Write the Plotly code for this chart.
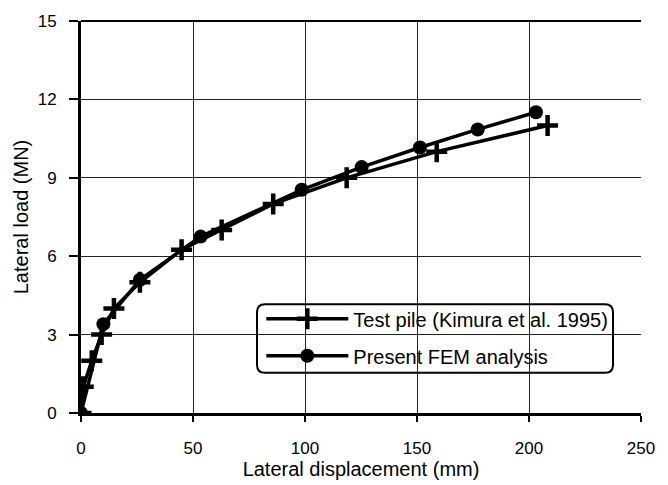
import plotly.graph_objects as go

# Test pile (Kimura et al. 1995)
test_x = [0, 1, 4.8, 9.2, 14.7, 26.3, 44.9, 62.8, 85.8, 118.6, 158.8, 208.3]
test_y = [0, 1.0, 2.0, 3.0, 4.0, 5.0, 6.25, 7.0, 8.0, 9.0, 10.0, 11.0]

# Present FEM analysis
fem_x = [0, 10.0, 26.3, 53.4, 98.5, 125.3, 151.3, 177.1, 203.1]
fem_y = [0, 3.4, 5.1, 6.75, 8.54, 9.41, 10.16, 10.85, 11.51]

x_ticks = [0, 50, 100, 150, 200, 250]
y_ticks = [0, 3, 6, 9, 12, 15]

FONT = "Liberation Sans, Arial, sans-serif"

fig = go.Figure()
fig.add_trace(go.Scatter(
    x=test_x, y=test_y, mode="lines+markers",
    name="Test pile (Kimura et al. 1995)", legendgroup="a",
    line=dict(color="black", width=3.5),
    marker=dict(symbol="cross-thin", size=15, color="black",
                line=dict(color="black", width=4.5)),
))
fig.add_trace(go.Scatter(
    x=fem_x, y=fem_y, mode="lines+markers",
    name="Present FEM analysis", legendgroup="b",
    line=dict(color="black", width=3.5),
    marker=dict(symbol="circle", size=14, color="black"),
))

fig.update_layout(
    width=668, height=485,
    margin=dict(l=81, r=27, t=16, b=69),
    paper_bgcolor="white", plot_bgcolor="white",
    font=dict(family=FONT, size=17, color="black"),
    showlegend=True,
    legend=dict(
        x=0.322, y=0.29, xanchor="left", yanchor="top",
        bgcolor="rgba(0,0,0,0)", borderwidth=0,
        font=dict(size=20, color="black"),
        tracegroupgap=8, itemwidth=82,
    ),
    xaxis=dict(
        range=[0, 250], tickvals=x_ticks, ticktext=[str(v) for v in x_ticks],
        showgrid=True, gridcolor="#222", gridwidth=1,
        showline=True, linecolor="black", linewidth=3,
        ticks="outside", ticklen=6, tickwidth=2, tickcolor="black",
        ticklabelstandoff=12,
        zeroline=False,
        title=dict(text="Lateral displacement (mm)", font=dict(size=20), standoff=1),
        tickfont=dict(size=17),
    ),
    yaxis=dict(
        range=[0, 15], tickvals=y_ticks, ticktext=[str(v) for v in y_ticks],
        showgrid=True, gridcolor="#222", gridwidth=1,
        showline=True, linecolor="black", linewidth=3,
        ticks="outside", ticklen=9, tickwidth=2, tickcolor="black",
        ticklabelstandoff=9,
        zeroline=False,
        title=dict(text="Lateral load (MN)", font=dict(size=20), standoff=4),
        tickfont=dict(size=17),
    ),
    shapes=[
        dict(type="path", xref="paper", yref="paper",
             path="M 0.3286,0.2775 L 0.9357,0.2775 Q 0.9500,0.2775 0.9500,0.2575 "
                  "L 0.9500,0.1225 Q 0.9500,0.1025 0.9357,0.1025 L 0.3286,0.1025 "
                  "Q 0.3143,0.1025 0.3143,0.1225 L 0.3143,0.2575 Q 0.3143,0.2775 0.3286,0.2775 Z",
             line=dict(color="black", width=2), fillcolor="white", layer="below"),
        dict(type="line", xref="paper", yref="paper", x0=0, x1=1, y0=1, y1=1,
             line=dict(color="black", width=2)),
    ],
)

fig.write_html("out.html")
